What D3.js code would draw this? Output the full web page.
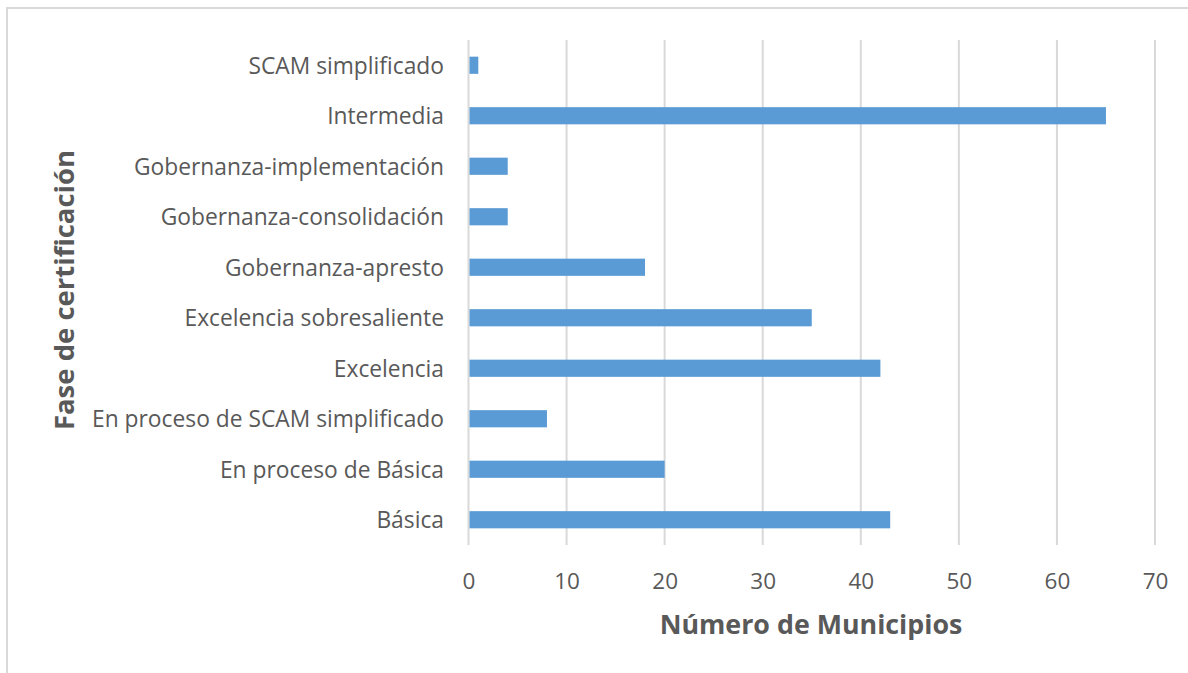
<!DOCTYPE html>
<html><head><meta charset="utf-8">
<script src="https://cdn.jsdelivr.net/npm/d3@7"></script>
<style>html,body{margin:0;padding:0;background:#fff;} svg{display:block;}</style>
</head><body>
<svg id="chart" width="1188" height="673"></svg>
<script>
const categories = ["SCAM simplificado","Intermedia","Gobernanza-implementación","Gobernanza-consolidación","Gobernanza-apresto","Excelencia sobresaliente","Excelencia","En proceso de SCAM simplificado","En proceso de Básica","Básica"];
const values = [1,65,4,4,18,35,42,8,20,43];
const xTicks = [0,10,20,30,40,50,60,70];
const xTitle = "Número de Municipios";
const yTitle = "Fase de certificación";

const svg = d3.select("#chart");
const font = "'Open Sans', sans-serif";
// border
svg.append("path").attr("d","M7,673 L7,8 L1188,8").attr("fill","none").attr("stroke","#d9d9d9").attr("stroke-width",2);

const pLeft = 468.5, pRight = 1155, pTop = 40, pBottom = 545;
const x = d3.scaleLinear().domain([0,70]).range([pLeft,pRight]);
const y = d3.scaleBand().domain(categories).range([pTop,pBottom]).paddingInner(0.66).paddingOuter(0.33);

const g = svg.append("g");
// gridlines
g.selectAll("line.grid").data(xTicks).join("line")
  .attr("x1",d=>x(d)).attr("x2",d=>x(d)).attr("y1",pTop).attr("y2",pBottom)
  .attr("stroke","#d9d9d9").attr("stroke-width",2);

// bars
g.selectAll("rect.bar").data(values).join("rect")
  .attr("x",x(0)+1).attr("y",(d,i)=>y(categories[i]))
  .attr("width",d=>x(d)-x(0)-1).attr("height",y.bandwidth())
  .attr("fill","#5B9BD5");

// x axis
const xAxis = d3.axisBottom(x).tickValues(xTicks).tickSize(0).tickPadding(0);
const xa = svg.append("g").attr("transform",`translate(0,${pBottom+36})`).call(xAxis);
xa.select(".domain").remove();
xa.selectAll("text").attr("font-family",font).attr("font-size",22.5).attr("fill","#595959").attr("dy","0.35em");

// y axis
const yAxis = d3.axisLeft(y).tickSize(0).tickPadding(0);
const ya = svg.append("g").attr("transform",`translate(444,1)`).call(yAxis);
ya.select(".domain").remove();
ya.selectAll("text").attr("font-family",font).attr("font-size",22.8).attr("fill","#595959");

// titles
svg.append("text").attr("x",811).attr("y",634).attr("text-anchor","middle")
  .attr("font-family",font).attr("font-weight","bold").attr("font-size",26.8).attr("fill","#595959").text(xTitle);
svg.append("text").attr("transform","translate(74,290) rotate(-90)").attr("text-anchor","middle")
  .attr("font-family",font).attr("font-weight","bold").attr("font-size",27.5).attr("fill","#595959").text(yTitle);
</script>
</body></html>
